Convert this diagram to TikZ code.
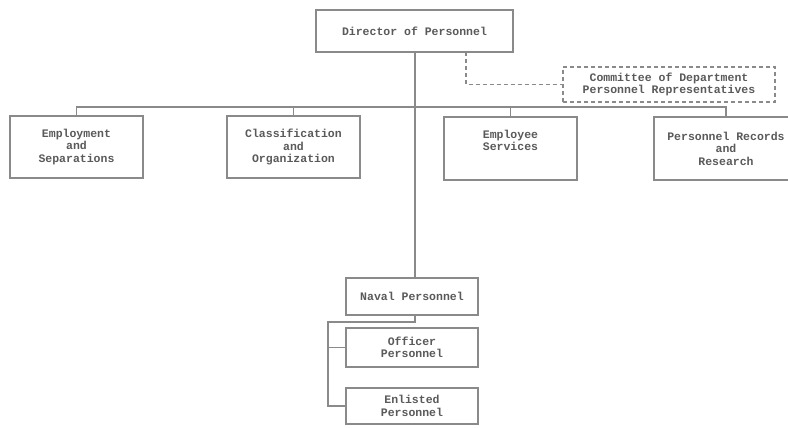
\documentclass[tikz,border=0pt]{standalone}
\usepackage{fontspec}
\setmonofont{Liberation Mono}
\definecolor{linegray}{HTML}{8A8A8A}
\definecolor{textgray}{HTML}{5A5A5A}
\tikzset{
  box/.style={draw=linegray, line width=1.6pt, rectangle, inner sep=0pt, align=center,
    text=textgray, font=\fontsize{11.5}{12.5}\selectfont\ttfamily\bfseries},
  conn/.style={draw=linegray, line width=1.6pt},
  dconn/.style={draw=linegray, line width=1.2pt, dash pattern=on 4pt off 3pt}
}
\begin{document}
\begin{tikzpicture}[x=1pt,y=-1pt]
\useasboundingbox[fill=white] (0,0) rectangle (788,428);
\clip (0,0) rectangle (788,428);
\node[box, minimum width=197pt, minimum height=42pt] (dir) at (414.5,31) {Director of Personnel};
\node[box, dconn, minimum width=212pt, minimum height=35pt] (com) at (669,84.5) {Committee of Department\\Personnel Representatives};
\node[box, minimum width=133pt, minimum height=62pt] (emp) at (76.5,147) {Employment\\and\\Separations};
\node[box, minimum width=133pt, minimum height=62pt] (cls) at (293.5,147) {Classification\\and\\Organization};
\node[box, minimum width=133pt, minimum height=63pt] (svc) at (510.5,148.5) {Employee\\Services\\\strut};
\node[box, minimum width=144pt, minimum height=63pt] (rec) at (726,148.5) {Personnel Records\\and\\Research};
\node[box, minimum width=132pt, minimum height=37pt] (nav) at (412,296.5) {Naval Personnel};
\node[box, minimum width=132pt, minimum height=39pt] (off) at (412,347.5) {Officer\\Personnel};
\node[box, minimum width=132pt, minimum height=36pt] (enl) at (412,406) {Enlisted\\Personnel};
% main trunk
\coordinate (top) at (415,52);
\coordinate (bus) at (415,107);
\draw[conn] (top) -- (top |- nav.north);
% bus
\draw[conn] (emp.north) -- (emp.north |- bus) -- (rec.north |- bus) -- (rec.north);
\draw[conn] (cls.north) -- (cls.north |- bus);
\draw[conn] (svc.north) -- (svc.north |- bus);
% dashed link
\coordinate (dsh) at (466,52);
\draw[dconn] (dsh) |- (com.west);
% naval branch
\coordinate (jn) at (328,322);
\draw[conn] (top |- nav.south) |- (jn) |- (enl.west);
\draw[conn] (jn |- off.west) -- (off.west);
\end{tikzpicture}
\end{document}
